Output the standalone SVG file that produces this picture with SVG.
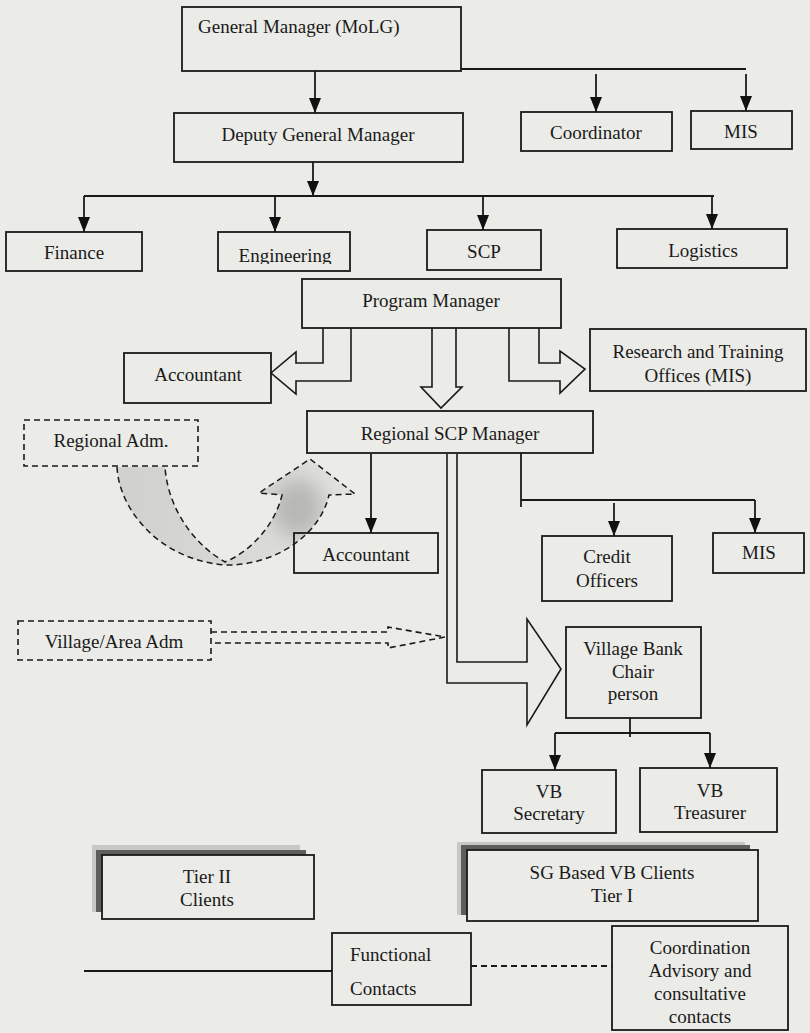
<svg xmlns="http://www.w3.org/2000/svg" width="810" height="1033" viewBox="0 0 810 1033">
<defs>
<style>
.bx{fill:none;stroke:#1a1a1a;stroke-width:1.8}
.dbx{fill:none;stroke:#1a1a1a;stroke-width:1.6;stroke-dasharray:6,4}
.ln{fill:none;stroke:#1a1a1a;stroke-width:1.8}
.ar{fill:none;stroke:#1a1a1a;stroke-width:1.8;marker-end:url(#ah)}
.blk{fill:none;stroke:#1a1a1a;stroke-width:1.6;stroke-linejoin:miter}
text{font-family:"Liberation Serif","Times New Roman",serif;font-size:19px;fill:#1a1a1a}
.c{text-anchor:middle}
</style>
<marker id="ah" markerWidth="15" markerHeight="12" refX="15" refY="6" orient="auto" markerUnits="userSpaceOnUse" viewBox="0 0 15 12">
<path d="M0,0 L15,6 L0,12 Z" fill="#111"/>
</marker>
<linearGradient id="cg" x1="117" y1="0" x2="355" y2="0" gradientUnits="userSpaceOnUse">
<stop offset="0" stop-color="#d0d0ce"/>
<stop offset="0.6" stop-color="#dadad8"/>
<stop offset="1" stop-color="#e3e3e1"/>
</linearGradient>
<filter id="bl" x="-50%" y="-50%" width="200%" height="200%"><feGaussianBlur stdDeviation="10"/></filter>
<clipPath id="cp"><path d="M117,467 C119,510 160,560 225,565 C275,566 320,535 329,495 L355,494 L310,459 L259,493 L282,495 C275,525 250,552 225,562 C195,545 168,510 165,467 Z"/></clipPath>
<clipPath id="engclip"><rect x="200" y="230" width="160" height="34"/></clipPath>
</defs>
<rect width="810" height="1033" fill="#ebebe7"/>

<g id="connectors">
<path class="ln" d="M461,69 H746"/>
<path class="ar" d="M315,71 V113"/>
<path class="ar" d="M596,74 V112"/>
<path class="ar" d="M746,74 V111"/>
<path class="ar" d="M313,162 V196"/>
<path class="ln" d="M84,196 H714"/>
<path class="ar" d="M84,196 V232"/>
<path class="ar" d="M275,196 V232"/>
<path class="ar" d="M483,196 V230"/>
<path class="ar" d="M712,196 V229"/>
<path class="blk" d="M323,328 V363 H296 V352 L271,373 L296,394 V381 H351 V328"/>
<path class="blk" d="M432,328 V387 H421 L441,408 L462,387 H456 V328"/>
<path class="blk" d="M509,328 V381 H560 V393 L585,369 L560,351 V363 H539 V328"/>
<path class="ar" d="M371,454 V533"/>
<path class="ln" d="M521,453 V507"/>
<path class="ln" d="M521,500 H755"/>
<path class="ar" d="M614,503 V536"/>
<path class="ar" d="M755,500 V533"/>
<path class="blk" d="M447,454 V683 H527 V725 L561,669 L527,619 V662 H457 V454"/>
<path class="dbx" d="M211,632 H388 V627 L445,637 L388,648 V643 H211"/>
<path class="ln" d="M630,718 V737"/>
<path class="ln" d="M555,733 H710"/>
<path class="ar" d="M555,733 V770"/>
<path class="ar" d="M710,733 V768"/>
<g id="curved-arrow">
<path d="M117,467 C119,510 160,560 225,565 C275,566 320,535 329,495 L355,494 L310,459 L259,493 L282,495 C275,525 250,552 225,562 C195,545 168,510 165,467 Z" fill="url(#cg)"/>
<g clip-path="url(#cp)"><ellipse cx="298" cy="508" rx="26" ry="30" fill="#8a8a88" opacity="0.45" filter="url(#bl)"/></g>
<path d="M117,467 C119,510 160,560 225,565 C275,566 320,535 329,495 L355,494 L310,459 L259,493 L282,495 C275,525 250,552 225,562 C195,545 168,510 165,467" fill="none" stroke="#1a1a1a" stroke-width="1.5" stroke-dasharray="6,4"/>
</g>
<path class="ln" d="M84,971 H332"/>
<path class="ln" d="M471,966 H612" stroke-dasharray="6,4"/>
</g>

<g id="gm"><rect class="bx" x="182" y="7" width="279" height="64"/><text x="198" y="33">General Manager (MoLG)</text></g>
<g id="dgm"><rect class="bx" x="174" y="113" width="289" height="49"/><text class="c" x="318" y="141">Deputy General Manager</text></g>
<g id="coordinator"><rect class="bx" x="521" y="112" width="151" height="39"/><text class="c" x="596" y="139">Coordinator</text></g>
<g id="mis-top"><rect class="bx" x="691" y="111" width="101" height="38"/><text class="c" x="741" y="138">MIS</text></g>
<g id="finance"><rect class="bx" x="6" y="232" width="136" height="39"/><text class="c" x="74" y="259">Finance</text></g>
<g id="engineering"><rect class="bx" x="218" y="232" width="132" height="39"/><text class="c" x="285" y="262" clip-path="url(#engclip)">Engineering</text></g>
<g id="scp"><rect class="bx" x="427" y="230" width="114" height="40"/><text class="c" x="484" y="258">SCP</text></g>
<g id="logistics"><rect class="bx" x="617" y="229" width="170" height="39"/><text class="c" x="703" y="257">Logistics</text></g>
<g id="program-manager"><rect class="bx" x="302" y="279" width="259" height="49"/><text class="c" x="431" y="307">Program Manager</text></g>
<g id="accountant-1"><rect class="bx" x="124" y="353" width="147" height="50"/><text class="c" x="198" y="381">Accountant</text></g>
<g id="research"><rect class="bx" x="590" y="329" width="216" height="62"/><text class="c" x="698" y="358">Research and Training</text><text class="c" x="698" y="382">Offices (MIS)</text></g>
<g id="regional-scp"><rect class="bx" x="307" y="411" width="286" height="42"/><text class="c" x="450" y="440">Regional SCP Manager</text></g>
<g id="regional-adm"><rect class="dbx" x="24" y="420" width="174" height="46"/><text class="c" x="111" y="447">Regional Adm.</text></g>
<g id="accountant-2"><rect class="bx" x="294" y="533" width="144" height="40"/><text class="c" x="366" y="561">Accountant</text></g>
<g id="credit-officers"><rect class="bx" x="542" y="536" width="130" height="65"/><text class="c" x="607" y="563">Credit</text><text class="c" x="607" y="587">Officers</text></g>
<g id="mis-regional"><rect class="bx" x="713" y="533" width="91" height="40"/><text class="c" x="759" y="559">MIS</text></g>
<g id="village-adm"><rect class="dbx" x="18" y="621" width="193" height="39"/><text class="c" x="114" y="648">Village/Area Adm</text></g>
<g id="vb-chair"><rect class="bx" x="566" y="627" width="135" height="91"/><text class="c" x="633" y="655">Village Bank</text><text class="c" x="633" y="678">Chair</text><text class="c" x="633" y="700">person</text></g>
<g id="vb-secretary"><rect class="bx" x="482" y="770" width="134" height="63"/><text class="c" x="549" y="798">VB</text><text class="c" x="549" y="820">Secretary</text></g>
<g id="vb-treasurer"><rect class="bx" x="640" y="768" width="137" height="64"/><text class="c" x="710" y="797">VB</text><text class="c" x="710" y="819">Treasurer</text></g>
<g id="tier2"><rect x="92" y="845" width="208" height="67" fill="#c8c8c6"/><rect x="96" y="850" width="210" height="62" fill="#5e5e5c"/><rect x="102" y="855" width="212" height="64" fill="#ebebe7" stroke="#1a1a1a" stroke-width="1.8"/><text class="c" x="207" y="883">Tier II</text><text class="c" x="207" y="906">Clients</text></g>
<g id="tier1"><rect x="457" y="842" width="288" height="73" fill="#c8c8c6"/><rect x="461" y="845" width="289" height="70" fill="#5e5e5c"/><rect x="467" y="850" width="291" height="71" fill="#ebebe7" stroke="#1a1a1a" stroke-width="1.8"/><text class="c" x="612" y="879">SG Based VB Clients</text><text class="c" x="612" y="902">Tier I</text></g>
<g id="functional"><rect class="bx" x="332" y="933" width="139" height="72"/><text x="350" y="961">Functional</text><text x="350" y="995">Contacts</text></g>
<g id="coordination"><rect class="bx" x="612" y="926" width="176" height="104"/><text class="c" x="700" y="954">Coordination</text><text class="c" x="700" y="977">Advisory and</text><text class="c" x="700" y="1000">consultative</text><text class="c" x="700" y="1023">contacts</text></g>
</svg>
